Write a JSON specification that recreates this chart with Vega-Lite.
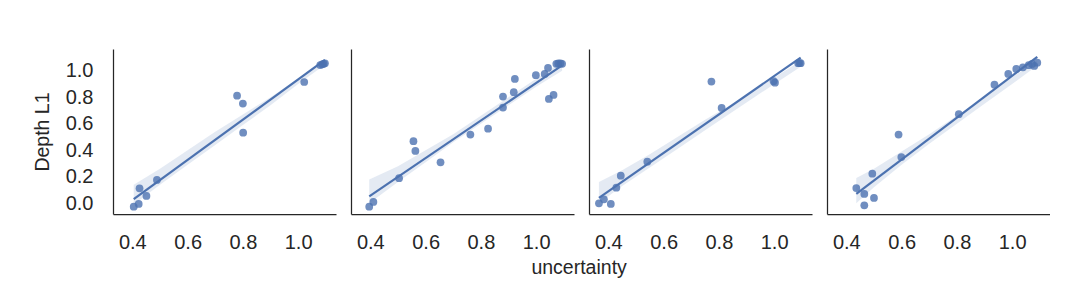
{
  "$schema": "https://vega.github.io/schema/vega-lite/v6.json",
  "background": "white",
  "padding": {"left": 32, "top": 49, "right": 0, "bottom": 0},
  "spacing": 15,
  "datasets": {
    "pts": [
      {"panel": 1, "uncertainty": 0.405, "depth": -0.026},
      {"panel": 1, "uncertainty": 0.423, "depth": -0.005},
      {"panel": 1, "uncertainty": 0.426, "depth": 0.113},
      {"panel": 1, "uncertainty": 0.451, "depth": 0.055},
      {"panel": 1, "uncertainty": 0.489, "depth": 0.176},
      {"panel": 1, "uncertainty": 0.779, "depth": 0.812},
      {"panel": 1, "uncertainty": 0.800, "depth": 0.752},
      {"panel": 1, "uncertainty": 0.801, "depth": 0.533},
      {"panel": 1, "uncertainty": 1.022, "depth": 0.915},
      {"panel": 1, "uncertainty": 1.080, "depth": 1.043},
      {"panel": 1, "uncertainty": 1.087, "depth": 1.048},
      {"panel": 1, "uncertainty": 1.092, "depth": 1.052},
      {"panel": 1, "uncertainty": 1.097, "depth": 1.056},
      {"panel": 2, "uncertainty": 0.396, "depth": -0.026},
      {"panel": 2, "uncertainty": 0.411, "depth": 0.010},
      {"panel": 2, "uncertainty": 0.504, "depth": 0.189},
      {"panel": 2, "uncertainty": 0.556, "depth": 0.468},
      {"panel": 2, "uncertainty": 0.563, "depth": 0.395},
      {"panel": 2, "uncertainty": 0.654, "depth": 0.309},
      {"panel": 2, "uncertainty": 0.762, "depth": 0.518},
      {"panel": 2, "uncertainty": 0.826, "depth": 0.563},
      {"panel": 2, "uncertainty": 0.880, "depth": 0.805},
      {"panel": 2, "uncertainty": 0.880, "depth": 0.722},
      {"panel": 2, "uncertainty": 0.919, "depth": 0.838},
      {"panel": 2, "uncertainty": 0.923, "depth": 0.938},
      {"panel": 2, "uncertainty": 0.999, "depth": 0.966},
      {"panel": 2, "uncertainty": 1.031, "depth": 0.976},
      {"panel": 2, "uncertainty": 1.043, "depth": 1.021},
      {"panel": 2, "uncertainty": 1.046, "depth": 0.787},
      {"panel": 2, "uncertainty": 1.063, "depth": 0.817},
      {"panel": 2, "uncertainty": 1.073, "depth": 1.052},
      {"panel": 2, "uncertainty": 1.080, "depth": 1.055},
      {"panel": 2, "uncertainty": 1.088, "depth": 1.055},
      {"panel": 2, "uncertainty": 1.094, "depth": 1.052},
      {"panel": 3, "uncertainty": 0.366, "depth": 0.000},
      {"panel": 3, "uncertainty": 0.384, "depth": 0.030},
      {"panel": 3, "uncertainty": 0.409, "depth": -0.005},
      {"panel": 3, "uncertainty": 0.429, "depth": 0.118},
      {"panel": 3, "uncertainty": 0.445, "depth": 0.208},
      {"panel": 3, "uncertainty": 0.541, "depth": 0.314},
      {"panel": 3, "uncertainty": 0.773, "depth": 0.918},
      {"panel": 3, "uncertainty": 0.810, "depth": 0.719},
      {"panel": 3, "uncertainty": 0.998, "depth": 0.921},
      {"panel": 3, "uncertainty": 1.003, "depth": 0.910},
      {"panel": 3, "uncertainty": 1.087, "depth": 1.057},
      {"panel": 3, "uncertainty": 1.092, "depth": 1.058},
      {"panel": 3, "uncertainty": 1.096, "depth": 1.057},
      {"panel": 4, "uncertainty": 0.436, "depth": 0.115},
      {"panel": 4, "uncertainty": 0.465, "depth": 0.070},
      {"panel": 4, "uncertainty": 0.465, "depth": -0.015},
      {"panel": 4, "uncertainty": 0.500, "depth": 0.040},
      {"panel": 4, "uncertainty": 0.494, "depth": 0.223},
      {"panel": 4, "uncertainty": 0.589, "depth": 0.518},
      {"panel": 4, "uncertainty": 0.599, "depth": 0.349},
      {"panel": 4, "uncertainty": 0.807, "depth": 0.672},
      {"panel": 4, "uncertainty": 0.936, "depth": 0.895},
      {"panel": 4, "uncertainty": 0.986, "depth": 0.976},
      {"panel": 4, "uncertainty": 1.015, "depth": 1.014},
      {"panel": 4, "uncertainty": 1.039, "depth": 1.026},
      {"panel": 4, "uncertainty": 1.060, "depth": 1.042},
      {"panel": 4, "uncertainty": 1.072, "depth": 1.051},
      {"panel": 4, "uncertainty": 1.080, "depth": 1.036},
      {"panel": 4, "uncertainty": 1.091, "depth": 1.061}
    ],
    "band": [
      {"panel": 1, "uncertainty": 0.405, "lo": -0.01, "hi": 0.14},
      {"panel": 1, "uncertainty": 0.5, "lo": 0.14, "hi": 0.26},
      {"panel": 1, "uncertainty": 0.6, "lo": 0.29, "hi": 0.40},
      {"panel": 1, "uncertainty": 0.7, "lo": 0.44, "hi": 0.54},
      {"panel": 1, "uncertainty": 0.8, "lo": 0.59, "hi": 0.67},
      {"panel": 1, "uncertainty": 0.9, "lo": 0.74, "hi": 0.80},
      {"panel": 1, "uncertainty": 1.0, "lo": 0.90, "hi": 0.94},
      {"panel": 1, "uncertainty": 1.097, "lo": 1.045, "hi": 1.075},
      {"panel": 2, "uncertainty": 0.396, "lo": 0.0, "hi": 0.18},
      {"panel": 2, "uncertainty": 0.5, "lo": 0.16, "hi": 0.28},
      {"panel": 2, "uncertainty": 0.6, "lo": 0.31, "hi": 0.40},
      {"panel": 2, "uncertainty": 0.7, "lo": 0.46, "hi": 0.52},
      {"panel": 2, "uncertainty": 0.8, "lo": 0.60, "hi": 0.66},
      {"panel": 2, "uncertainty": 0.9, "lo": 0.74, "hi": 0.80},
      {"panel": 2, "uncertainty": 1.0, "lo": 0.88, "hi": 0.94},
      {"panel": 2, "uncertainty": 1.094, "lo": 1.00, "hi": 1.07},
      {"panel": 3, "uncertainty": 0.366, "lo": 0.0, "hi": 0.16},
      {"panel": 3, "uncertainty": 0.45, "lo": 0.13, "hi": 0.25},
      {"panel": 3, "uncertainty": 0.55, "lo": 0.27, "hi": 0.37},
      {"panel": 3, "uncertainty": 0.65, "lo": 0.41, "hi": 0.50},
      {"panel": 3, "uncertainty": 0.75, "lo": 0.55, "hi": 0.63},
      {"panel": 3, "uncertainty": 0.85, "lo": 0.69, "hi": 0.75},
      {"panel": 3, "uncertainty": 0.95, "lo": 0.83, "hi": 0.88},
      {"panel": 3, "uncertainty": 1.096, "lo": 1.03, "hi": 1.075},
      {"panel": 4, "uncertainty": 0.436, "lo": 0.0, "hi": 0.19},
      {"panel": 4, "uncertainty": 0.5, "lo": 0.12, "hi": 0.26},
      {"panel": 4, "uncertainty": 0.6, "lo": 0.29, "hi": 0.39},
      {"panel": 4, "uncertainty": 0.7, "lo": 0.45, "hi": 0.52},
      {"panel": 4, "uncertainty": 0.8, "lo": 0.60, "hi": 0.66},
      {"panel": 4, "uncertainty": 0.9, "lo": 0.75, "hi": 0.80},
      {"panel": 4, "uncertainty": 1.0, "lo": 0.90, "hi": 0.95},
      {"panel": 4, "uncertainty": 1.091, "lo": 1.04, "hi": 1.08}
    ]
  },
  "title": {
    "text": "uncertainty",
    "orient": "bottom",
    "anchor": "middle",
    "font": "Liberation Sans",
    "fontSize": 19.5,
    "fontWeight": "normal",
    "color": "#262626",
    "offset": 7,
    "dx": 38
  },
  "config": {
    "view": {"stroke": null},
    "axis": {
      "grid": false,
      "ticks": false,
      "tickSize": 0,
      "labelOverlap": false,
      "labelBound": false,
      "labelFlush": false,
      "domainColor": "#262626",
      "domainWidth": 1.25,
      "labelColor": "#262626",
      "titleColor": "#262626",
      "labelFont": "Liberation Sans",
      "titleFont": "Liberation Sans",
      "labelFontSize": 20,
      "titleFontSize": 19.5,
      "titleFontWeight": "normal",
      "labelPadding": 18
    },
    "axisY": {"labelOverlap": false},
    "axisQuantitative": {"labelOverlap": false, "tickCount": 6}
  },
  "hconcat": [
    {
      "width": 223, "height": 165,
      "encoding": {
        "x": {"field": "uncertainty", "type": "quantitative", "scale": {"domain": [0.33, 1.137], "nice": false, "zero": false}, "axis": {"title": null, "values": [0.4, 0.6, 0.8, 1.0], "format": ".1f", "labelOverlap": false}},
        "y": {"field": "depth", "type": "quantitative", "scale": {"domain": [-0.081, 1.164], "nice": false, "zero": false}, "axis": {"title": "Depth L1", "values": [0, 0.2, 0.4, 0.6, 0.8, 1.0], "format": ".1f", "titlePadding": 13, "labelPadding": 20, "labelOverlap": false}}
      },
      "layer": [
        {
          "data": {"name": "band"},
          "transform": [{"filter": "datum.panel == 1"}],
          "mark": {"type": "area", "color": "#4c72b0", "opacity": 0.15},
          "encoding": {
            "y": {"field": "lo", "type": "quantitative", "title": "Depth L1"},
            "y2": {"field": "hi"}
          }
        },
        {
          "data": {"name": "pts"},
          "transform": [{"filter": "datum.panel == 1"}],
          "mark": {"type": "point", "filled": true, "color": "#4c72b0", "opacity": 0.8, "size": 60}
        },
        {
          "data": {"name": "pts"},
          "transform": [{"filter": "datum.panel == 1"}, {"regression": "depth", "on": "uncertainty"}],
          "mark": {"type": "line", "color": "#4c72b0", "strokeWidth": 2.2}
        }
      ]
    },
    {
      "width": 223, "height": 165,
      "encoding": {
        "x": {"field": "uncertainty", "type": "quantitative", "scale": {"domain": [0.33, 1.137], "nice": false, "zero": false}, "axis": {"title": null, "values": [0.4, 0.6, 0.8, 1.0], "format": ".1f", "labelOverlap": false}},
        "y": {"field": "depth", "type": "quantitative", "scale": {"domain": [-0.081, 1.164], "nice": false, "zero": false}, "axis": {"title": null, "labels": false}}
      },
      "layer": [
        {
          "data": {"name": "band"},
          "transform": [{"filter": "datum.panel == 2"}],
          "mark": {"type": "area", "color": "#4c72b0", "opacity": 0.15},
          "encoding": {
            "y": {"field": "lo", "type": "quantitative"},
            "y2": {"field": "hi"}
          }
        },
        {
          "data": {"name": "pts"},
          "transform": [{"filter": "datum.panel == 2"}],
          "mark": {"type": "point", "filled": true, "color": "#4c72b0", "opacity": 0.8, "size": 60}
        },
        {
          "data": {"name": "pts"},
          "transform": [{"filter": "datum.panel == 2"}, {"regression": "depth", "on": "uncertainty"}],
          "mark": {"type": "line", "color": "#4c72b0", "strokeWidth": 2.2}
        }
      ]
    },
    {
      "width": 223, "height": 165,
      "encoding": {
        "x": {"field": "uncertainty", "type": "quantitative", "scale": {"domain": [0.33, 1.137], "nice": false, "zero": false}, "axis": {"title": null, "values": [0.4, 0.6, 0.8, 1.0], "format": ".1f", "labelOverlap": false}},
        "y": {"field": "depth", "type": "quantitative", "scale": {"domain": [-0.081, 1.164], "nice": false, "zero": false}, "axis": {"title": null, "labels": false}}
      },
      "layer": [
        {
          "data": {"name": "band"},
          "transform": [{"filter": "datum.panel == 3"}],
          "mark": {"type": "area", "color": "#4c72b0", "opacity": 0.15},
          "encoding": {
            "y": {"field": "lo", "type": "quantitative"},
            "y2": {"field": "hi"}
          }
        },
        {
          "data": {"name": "pts"},
          "transform": [{"filter": "datum.panel == 3"}],
          "mark": {"type": "point", "filled": true, "color": "#4c72b0", "opacity": 0.8, "size": 60}
        },
        {
          "data": {"name": "pts"},
          "transform": [{"filter": "datum.panel == 3"}, {"regression": "depth", "on": "uncertainty"}],
          "mark": {"type": "line", "color": "#4c72b0", "strokeWidth": 2.2}
        }
      ]
    },
    {
      "width": 223, "height": 165,
      "encoding": {
        "x": {"field": "uncertainty", "type": "quantitative", "scale": {"domain": [0.33, 1.137], "nice": false, "zero": false}, "axis": {"title": null, "values": [0.4, 0.6, 0.8, 1.0], "format": ".1f", "labelOverlap": false}},
        "y": {"field": "depth", "type": "quantitative", "scale": {"domain": [-0.081, 1.164], "nice": false, "zero": false}, "axis": {"title": null, "labels": false}}
      },
      "layer": [
        {
          "data": {"name": "band"},
          "transform": [{"filter": "datum.panel == 4"}],
          "mark": {"type": "area", "color": "#4c72b0", "opacity": 0.15},
          "encoding": {
            "y": {"field": "lo", "type": "quantitative"},
            "y2": {"field": "hi"}
          }
        },
        {
          "data": {"name": "pts"},
          "transform": [{"filter": "datum.panel == 4"}],
          "mark": {"type": "point", "filled": true, "color": "#4c72b0", "opacity": 0.8, "size": 60}
        },
        {
          "data": {"name": "pts"},
          "transform": [{"filter": "datum.panel == 4"}, {"regression": "depth", "on": "uncertainty"}],
          "mark": {"type": "line", "color": "#4c72b0", "strokeWidth": 2.2}
        }
      ]
    }
  ]
}
